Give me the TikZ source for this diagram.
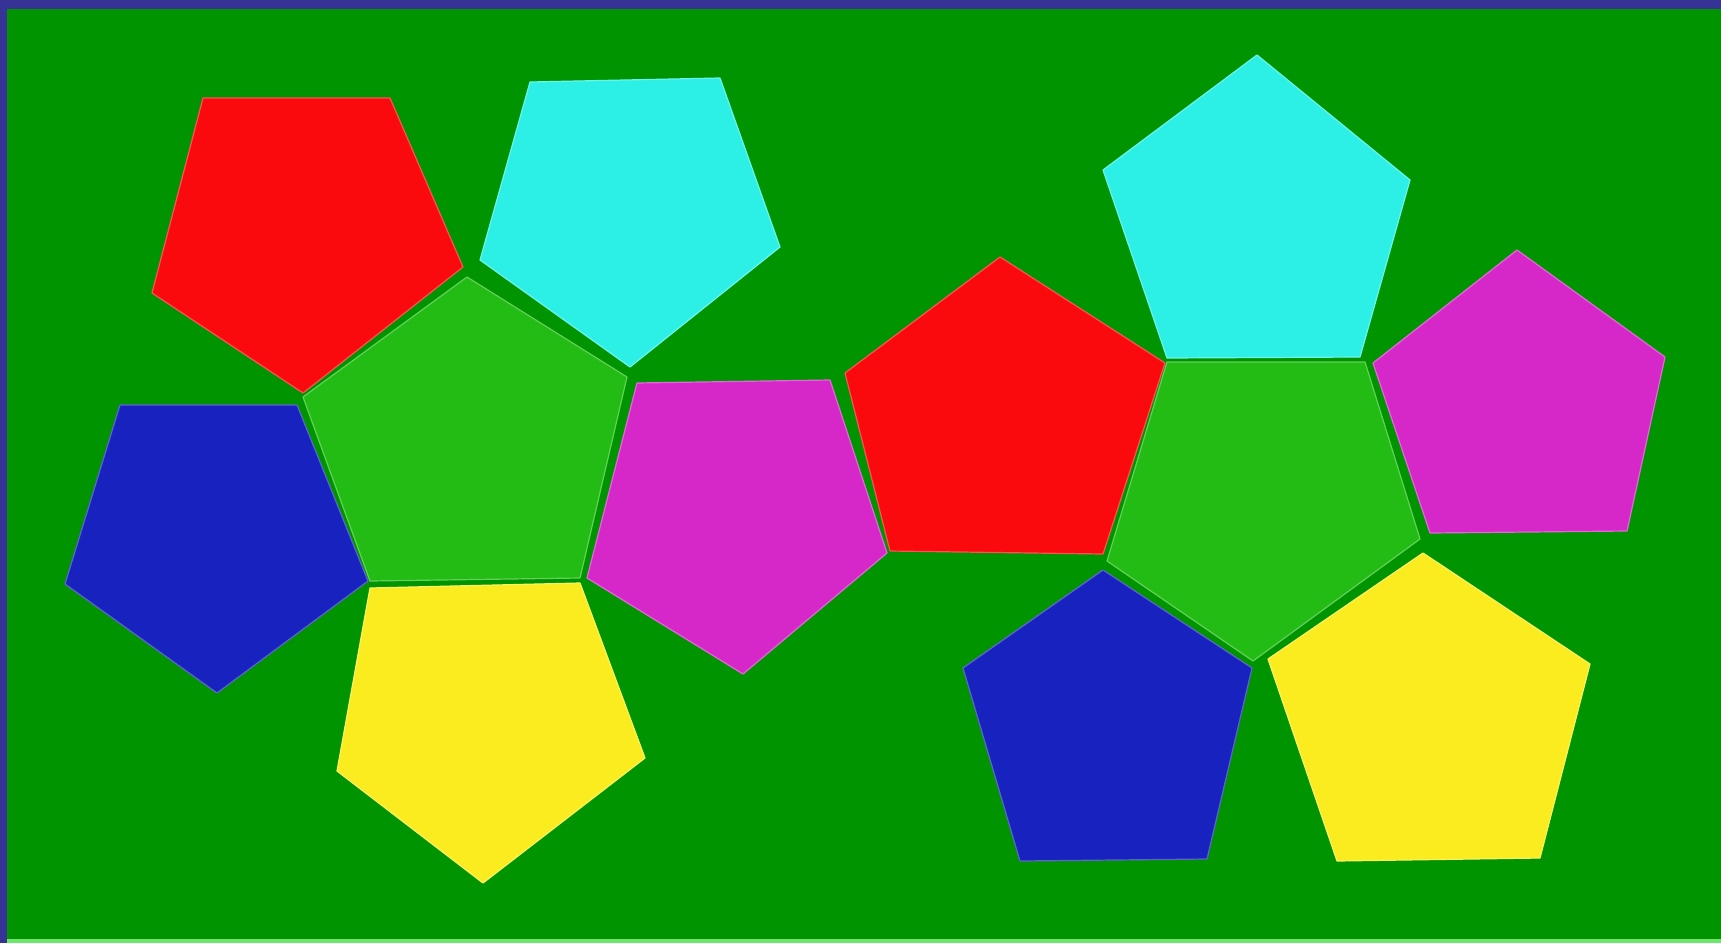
\documentclass[tikz,border=0pt]{standalone}
\usepackage{tikz}
\definecolor{frameblue}{RGB}{55,50,150}
\definecolor{bggreen}{RGB}{0,148,0}
\definecolor{lightline}{RGB}{110,230,110}
\definecolor{pgreen}{RGB}{34,188,20}
\definecolor{pred}{RGB}{250,10,12}
\definecolor{pcyan}{RGB}{44,240,230}
\definecolor{pmag}{RGB}{214,40,200}
\definecolor{pblue}{RGB}{24,34,190}
\definecolor{pyel}{RGB}{250,236,30}
\tikzset{
  face/.style={fill=#1, draw=#1!70!white, line width=1.2pt, line join=round},
}
\begin{document}
\begin{tikzpicture}[x=1pt,y=-1pt]
\useasboundingbox (0,0) rectangle (1721,943);
\fill[frameblue] (0,0) rectangle (1721,943);
\fill[bggreen] (7,9) rectangle (1721,939);
\fill[lightline] (7,939) rectangle (1721,943);
% left cluster
\filldraw[face=pred]  (203,98) -- (390,98) -- (463,267) -- (303,393) -- (152,293) -- cycle;
\filldraw[face=pcyan] (530,82) -- (720,78) -- (780,247) -- (630,367) -- (480,260) -- cycle;
\filldraw[face=pgreen] (467,277) -- (627,377) -- (580,578) -- (370,581) -- (303,397) -- cycle;
\filldraw[face=pblue] (120,405) -- (297,405) -- (368,581) -- (217,693) -- (65,584) -- cycle;
\filldraw[face=pyel]  (370,588) -- (580,583) -- (645,758) -- (483,883) -- (337,771) -- cycle;
\filldraw[face=pmag]  (637,383) -- (830,380) -- (887,553) -- (743,674) -- (587,578) -- cycle;
% middle / right cluster
\filldraw[face=pred]  (1000,257) -- (1165,363) -- (1103,554) -- (890,551) -- (845,373) -- cycle;
\filldraw[face=pcyan] (1257,55) -- (1410,180) -- (1360,357) -- (1167,358) -- (1103,170) -- cycle;
\filldraw[face=pgreen] (1167,362) -- (1365,362) -- (1420,539) -- (1253,661) -- (1107,561) -- cycle;
\filldraw[face=pmag]  (1517,250) -- (1665,357) -- (1627,531) -- (1430,533) -- (1373,363) -- cycle;
\filldraw[face=pblue] (1103,570) -- (1252,668) -- (1207,859) -- (1020,861) -- (963,668) -- cycle;
\filldraw[face=pyel]  (1423,553) -- (1590,664) -- (1540,858) -- (1337,861) -- (1268,659) -- cycle;
\end{tikzpicture}
\end{document}
